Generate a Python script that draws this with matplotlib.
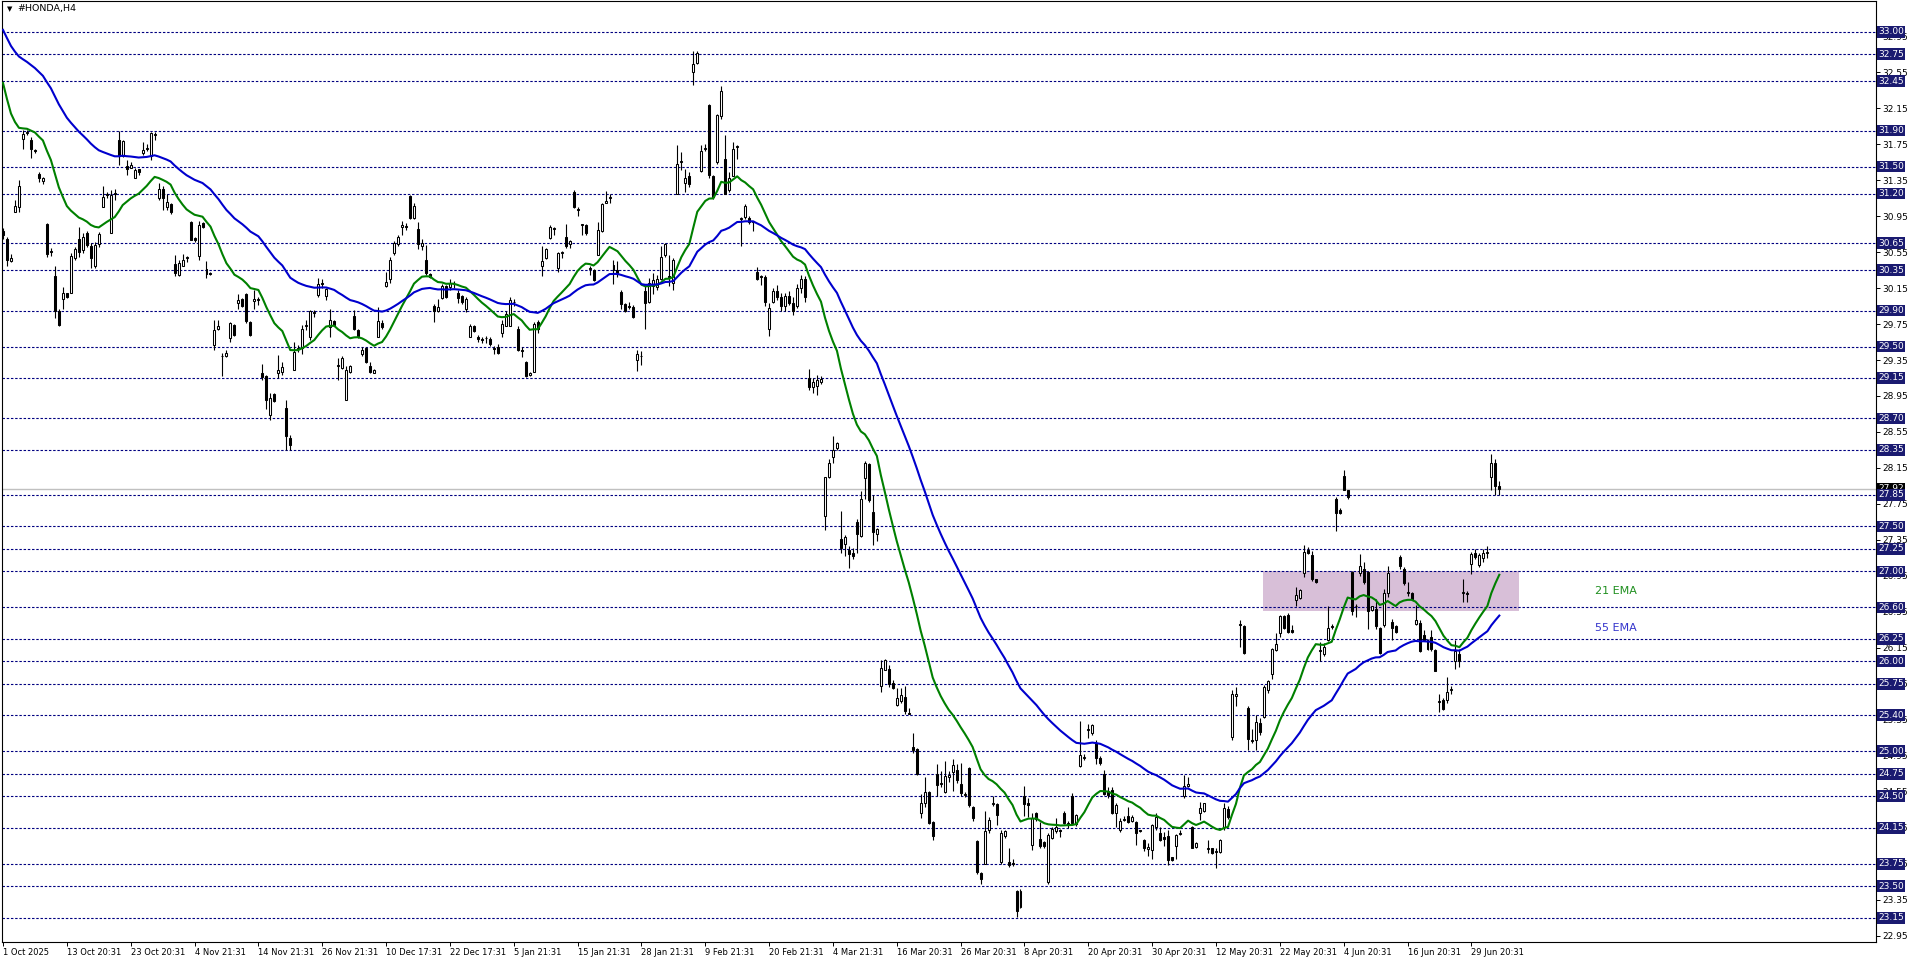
import matplotlib.pyplot as plt
import numpy as np
from matplotlib.patches import Rectangle
from matplotlib.ticker import FormatStrFormatter

# Nến H4 #HONDA (từ 1 Oct 2025)
opens = [
    30.78, 30.70, 30.45, 31.00, 31.05, 31.81, 31.87, 31.80, 31.68, 31.42,
    31.34, 30.86, 30.56, 30.28, 29.90, 30.03, 30.09, 30.10, 30.48, 30.70,
    30.57, 30.76, 30.62, 30.39, 30.64, 31.05, 31.18, 30.76, 31.20, 31.80,
    31.62, 31.51, 31.49, 31.37, 31.47, 31.65, 31.70, 31.62, 31.85, 31.15,
    31.25, 31.05, 31.08, 30.42, 30.29, 30.39, 30.48, 30.88, 30.71, 30.51,
    30.87, 30.36, 30.32, 29.52, 29.70, 29.39, 29.40, 29.60, 29.74, 29.98,
    30.03, 30.08, 29.77, 30.01, 30.02, 29.20, 29.17, 28.74, 28.97, 29.20,
    29.22, 28.82, 28.48, 29.24, 29.47, 29.48, 29.73, 29.61, 29.87, 30.07,
    30.21, 30.06, 29.72, 29.78, 29.28, 29.26, 28.90, 29.22, 29.84, 29.68,
    29.42, 29.48,
    29.28, 29.21, 29.61, 29.76, 30.17, 30.25, 30.54, 30.64,
    30.83, 30.84, 31.17, 30.93, 30.81, 30.62, 30.46, 30.31, 29.95, 29.90,
    30.04, 30.17, 30.16, 30.20, 30.09, 30.06, 29.92, 29.61, 29.73, 29.61,
    29.58, 29.59, 29.58, 29.48, 29.50, 29.65, 29.73, 29.73, 29.99, 29.70,
    29.46, 29.33, 29.18, 29.22, 29.77, 30.39, 30.48, 30.71, 30.82, 30.37,
    30.54, 30.72, 30.64, 31.22, 31.03, 30.85, 30.85, 30.36, 30.35, 30.52,
    30.78, 31.10, 31.15, 30.41, 30.35, 30.11, 29.97, 29.95, 29.94, 29.35,
    29.40, 30.12, 29.99, 30.17, 30.16, 30.25, 30.52, 30.28, 30.21, 31.20,
    31.55, 31.32, 31.40, 32.55, 32.65, 31.45, 31.70, 32.18, 31.40, 31.55,
    32.06, 31.59, 31.24, 31.40, 31.72, 30.92, 30.94, 30.93, 30.88, 30.33,
    30.28,
    30.27, 29.70, 30.00, 30.12, 30.05, 29.95, 30.06, 29.98, 29.95, 30.15,
    30.25, 29.15, 29.05,
    29.06, 29.10, 27.62, 28.05, 28.27, 28.37, 27.36, 27.30, 27.24, 27.21,
    27.55, 27.39, 28.04, 28.19, 27.66, 27.42, 25.73, 25.90, 25.91, 25.76,
    25.51, 25.56, 25.60, 25.43, 25.05, 25.03, 24.31, 24.43, 24.55, 24.21,
    24.75, 24.64, 24.55, 24.71, 24.77, 24.79, 24.64, 24.51, 24.81, 24.38,
    24.00, 23.65, 23.75, 24.12, 24.41, 24.41, 23.77, 24.06, 23.77, 23.76,
    23.45, 23.27, 24.50, 24.43, 23.96, 24.31, 24.02, 23.99, 23.55, 24.04,
    24.11, 24.12, 24.31, 24.19, 24.50, 24.19, 24.84, 24.93, 25.24, 25.20,
    25.09, 24.93,
    24.75, 24.56, 24.57, 24.31, 24.12, 24.24, 24.28, 24.22, 24.21, 24.12,
    24.01, 23.91, 23.90, 24.16, 24.09, 24.05, 24.06, 23.82, 23.95, 24.08,
    24.50, 24.61, 24.16, 23.94, 24.31, 24.34, 23.91, 23.92, 23.88, 23.88,
    24.16, 24.36, 25.16, 25.62, 26.41, 26.39, 25.48, 25.13, 25.13, 25.32,
    25.38, 25.68, 25.86, 26.13, 26.31, 26.50, 26.52, 26.35, 26.68, 26.70,
    26.98, 27.24, 27.18, 26.91, 26.12, 26.08, 26.24, 26.38, 27.81, 27.68,
    28.06, 27.90, 26.99, 26.61, 26.98, 27.03, 26.99, 26.57, 26.58, 26.37,
    26.40, 26.76, 26.44, 26.39, 27.16, 27.03, 26.76, 26.76, 26.41, 26.43,
    26.29, 26.24, 26.27, 26.13, 25.55, 25.57, 25.57, 25.68, 26.00, 26.08,
    26.76, 26.76, 27.08, 27.21, 27.07,
    27.15, 27.20, 28.05, 28.20, 27.95,
]
highs = [
    30.82, 30.72, 30.53, 31.13, 31.35, 31.91, 31.91, 31.83, 31.70, 31.44,
    31.38, 30.87, 30.59, 30.39, 29.92, 30.16, 30.10, 30.54, 30.61, 30.83,
    30.76, 30.78, 30.65, 30.66, 30.77, 31.28, 31.22, 31.24, 31.25, 31.90,
    31.80, 31.57, 31.55, 31.48, 31.47, 31.77, 31.75, 31.89, 31.88, 31.32,
    31.28, 31.20, 31.09, 30.52, 30.46, 30.53, 30.51, 30.89, 30.72, 30.89,
    30.88, 30.45, 30.33, 29.80, 29.80, 29.43, 29.46, 29.77, 29.75, 30.08,
    30.04, 30.09, 29.78, 30.13, 30.05, 29.31, 29.18, 28.98, 28.98, 29.41,
    29.33, 28.90, 28.52, 29.55, 29.52, 29.74, 29.80, 29.91, 29.91, 30.26,
    30.25, 30.15, 29.92, 29.79, 29.37, 29.39, 29.28, 29.30, 29.91, 29.69,
    29.50, 29.49,
    29.33, 29.25, 29.94, 29.79, 30.33, 30.50, 30.67, 30.74,
    30.90, 30.87, 31.18, 31.09, 30.88, 30.70, 30.63, 30.32, 29.97, 30.03,
    30.19, 30.18, 30.25, 30.23, 30.13, 30.07, 30.05, 29.75, 29.74, 29.63,
    29.61, 29.62, 29.61, 29.51, 29.53, 29.79, 29.90, 30.05, 30.03, 29.73,
    29.50, 29.34, 29.22, 29.77, 29.79, 30.62, 30.59, 30.85, 30.83, 30.55,
    30.56, 30.86, 30.68, 31.24, 31.05, 30.86, 30.86, 30.40, 30.36, 30.88,
    31.10, 31.23, 31.19, 30.46, 30.45, 30.13, 29.98, 29.99, 29.96, 29.46,
    29.45, 30.17, 30.26, 30.32, 30.29, 30.62, 30.65, 30.52, 30.48, 31.74,
    31.66, 31.47, 31.44, 32.78, 32.78, 31.74, 31.75, 32.20, 31.41, 32.09,
    32.40, 31.85, 31.44, 31.77, 31.74, 30.94, 31.08, 30.95, 30.90, 30.38,
    30.30,
    30.30, 29.98, 30.15, 30.18, 30.10, 30.10, 30.12, 30.05, 30.20, 30.30,
    30.28, 29.25, 29.15,
    29.18, 29.17, 28.05, 28.25, 28.51, 28.44, 27.67, 27.40, 27.28, 27.26,
    27.58, 27.89, 28.23, 28.20, 27.85, 27.48, 26.02, 26.03, 25.96, 25.79,
    25.70, 25.70, 25.73, 25.48, 25.20, 25.04, 24.52, 24.71, 24.56, 24.22,
    24.86, 24.78, 24.89, 24.78, 24.91, 24.86, 24.87, 24.55, 24.82, 24.39,
    24.01, 23.66, 24.34, 24.27, 24.50, 24.43, 24.12, 24.12, 23.92, 23.80,
    23.46, 23.47, 24.61, 24.48, 24.31, 24.33, 24.21, 24.00, 24.09, 24.16,
    24.26, 24.14, 24.34, 24.22, 24.54, 24.30, 25.34, 24.97, 25.30, 25.30,
    25.13, 24.95,
    24.79, 24.60, 24.60, 24.42, 24.26, 24.28, 24.38, 24.29, 24.22, 24.13,
    24.02, 23.98, 24.19, 24.31, 24.16, 24.10, 24.12, 23.83, 24.08, 24.12,
    24.74, 24.71, 24.17, 23.99, 24.44, 24.43, 24.01, 23.93, 23.93, 24.02,
    24.42, 24.39, 25.68, 25.72, 26.46, 26.40, 25.50, 25.25, 25.40, 25.37,
    25.74, 25.79, 26.15, 26.31, 26.51, 26.51, 26.54, 26.40, 26.83, 26.80,
    27.29, 27.27, 27.23, 26.92, 26.21, 26.20, 26.62, 26.42, 27.83, 27.71,
    28.13, 27.91, 27.00, 26.64, 27.19, 27.10, 27.00, 26.62, 26.69, 26.38,
    26.80, 27.06, 26.47, 26.40, 27.18, 27.05, 26.88, 26.77, 26.63, 26.46,
    26.35, 26.25, 26.35, 26.14, 25.64, 25.59, 25.83, 25.73, 26.24, 26.14,
    26.91, 26.78, 27.22, 27.25, 27.20,
    27.25, 27.28, 28.30, 28.25, 28.00,
]
lows = [
    30.70, 30.39, 30.44, 30.99, 30.99, 31.70, 31.85, 31.60, 31.65, 31.33,
    31.31, 30.50, 30.51, 29.82, 29.73, 29.92, 30.04, 30.09, 30.46, 30.50,
    30.54, 30.61, 30.37, 30.37, 30.61, 31.05, 31.15, 30.76, 31.13, 31.52,
    31.61, 31.41, 31.48, 31.37, 31.41, 31.63, 31.67, 31.57, 31.80, 31.13,
    31.02, 31.02, 30.97, 30.28, 30.28, 30.39, 30.44, 30.68, 30.66, 30.46,
    30.82, 30.26, 30.30, 29.46, 29.68, 29.17, 29.38, 29.55, 29.62, 29.92,
    29.94, 29.76, 29.62, 29.92, 29.96, 29.13, 28.80, 28.68, 28.88, 29.15,
    29.18, 28.35, 28.35, 29.24, 29.44, 29.42, 29.68, 29.57, 29.83, 30.05,
    30.15, 30.02, 29.61, 29.73, 29.13, 29.25, 28.90, 29.20, 29.68, 29.60,
    29.39, 29.32,
    29.21, 29.20, 29.61, 29.69, 30.16, 30.21, 30.52, 30.62,
    30.74, 30.80, 30.92, 30.92, 30.58, 30.57, 30.30, 30.26, 29.77, 29.88,
    30.03, 30.04, 30.13, 30.15, 29.98, 29.97, 29.88, 29.61, 29.66, 29.55,
    29.54, 29.54, 29.51, 29.42, 29.42, 29.61, 29.73, 29.73, 29.95, 29.45,
    29.38, 29.16, 29.17, 29.22, 29.65, 30.28, 30.47, 30.69, 30.74, 30.33,
    30.48, 30.60, 30.60, 31.04, 30.95, 30.74, 30.74, 30.29, 30.23, 30.52,
    30.77, 31.09, 31.10, 30.20, 30.27, 29.92, 29.88, 29.92, 29.82, 29.23,
    29.29, 29.70, 29.98, 30.08, 30.13, 30.24, 30.50, 30.17, 30.13, 31.20,
    31.46, 31.22, 31.27, 32.41, 32.64, 31.44, 31.67, 31.37, 31.14, 31.53,
    32.03, 31.20, 31.22, 31.39, 31.59, 30.62, 30.92, 30.86, 30.78, 30.24,
    30.18,
    29.95, 29.62, 29.98, 30.02, 29.90, 29.90, 29.96, 29.85, 29.93, 30.10,
    30.00, 29.02, 28.98,
    28.96, 29.08, 27.46, 28.04, 28.21, 28.35, 27.20, 27.17, 27.04, 27.14,
    27.20, 27.38, 27.81, 27.77, 27.29, 27.34, 25.66, 25.90, 25.72, 25.69,
    25.50, 25.54, 25.41, 25.41, 24.98, 24.74, 24.26, 24.38, 24.19, 24.01,
    24.50, 24.60, 24.54, 24.66, 24.56, 24.65, 24.50, 24.49, 24.38, 24.23,
    23.64, 23.53, 23.75, 24.09, 24.39, 24.18, 23.75, 24.04, 23.71, 23.72,
    23.16, 23.26, 24.28, 24.27, 23.90, 24.22, 23.92, 23.93, 23.53, 24.02,
    24.09, 24.05, 24.19, 24.15, 24.19, 24.17, 24.82, 24.90, 25.15, 25.18,
    24.86, 24.85,
    24.51, 24.48, 24.30, 24.16, 24.10, 24.22, 24.20, 24.21, 23.96, 24.10,
    23.89, 23.84, 23.80, 24.12, 24.00, 23.95, 23.74, 23.78, 23.80, 24.07,
    24.48, 24.60, 23.92, 23.93, 24.24, 24.32, 23.87, 23.86, 23.70, 23.87,
    24.13, 24.25, 25.13, 25.50, 26.16, 26.08, 25.01, 25.09, 25.02, 25.18,
    25.37, 25.65, 25.80, 26.11, 26.27, 26.36, 26.31, 26.32, 26.62, 26.69,
    26.94, 27.19, 26.89, 26.87, 26.00, 26.06, 26.23, 26.36, 27.45, 27.64,
    27.90, 27.81, 26.51, 26.49, 26.95, 26.86, 26.36, 26.56, 26.36, 26.08,
    26.38, 26.71, 26.24, 26.32, 27.03, 26.85, 26.73, 26.68, 26.40, 26.10,
    26.23, 26.13, 26.12, 25.89, 25.44, 25.46, 25.54, 25.64, 25.92, 25.94,
    26.66, 26.66, 26.97, 27.14, 27.05,
    27.10, 27.15, 27.90, 27.85, 27.85,
]
closes = [
    30.74, 30.46, 30.48, 31.06, 31.28, 31.86, 31.88, 31.70, 31.67, 31.37,
    31.37, 30.53, 30.55, 29.90, 29.74, 30.10, 30.05, 30.51, 30.58, 30.55,
    30.72, 30.63, 30.48, 30.63, 30.75, 31.16, 31.19, 31.18, 31.21, 31.62,
    31.79, 31.47, 31.52, 31.46, 31.44, 31.68, 31.71, 31.87, 31.86, 31.25,
    31.15, 31.11, 30.99, 30.32, 30.43, 30.46, 30.49, 30.68, 30.68, 30.85,
    30.83, 30.31, 30.31, 29.68, 29.73, 29.40, 29.43, 29.76, 29.63, 30.02,
    29.95, 29.78, 29.63, 30.03, 30.03, 29.16, 28.91, 28.93, 28.89, 29.24,
    29.27, 28.50, 28.41, 29.44, 29.48, 29.70, 29.74, 29.89, 29.88, 30.20,
    30.20, 30.14, 29.80, 29.74, 29.29, 29.37, 29.24, 29.28, 29.70, 29.62,
    29.46, 29.33,
    29.22, 29.24, 29.78, 29.72, 30.22, 30.46, 30.65, 30.72,
    30.85, 30.83, 30.93, 31.06, 30.64, 30.65, 30.32, 30.27, 29.89, 29.94,
    30.17, 30.05, 30.21, 30.19, 30.04, 30.00, 30.03, 29.73, 29.67, 29.58,
    29.57, 29.60, 29.53, 29.47, 29.43, 29.75, 29.86, 30.02, 30.00, 29.46,
    29.45, 29.17, 29.21, 29.75, 29.69, 30.45, 30.58, 30.83, 30.81, 30.54,
    30.55, 30.62, 30.67, 31.05, 31.02, 30.86, 30.76, 30.37, 30.24, 30.80,
    31.08, 31.12, 31.16, 30.35, 30.31, 29.97, 29.90, 29.94, 29.83, 29.42,
    29.39, 29.98, 30.21, 30.24, 30.25, 30.50, 30.64, 30.27, 30.46, 31.53,
    31.56, 31.37, 31.31, 32.64, 32.76, 31.67, 31.71, 31.41, 31.16, 32.07,
    32.34, 31.20, 31.37, 31.70, 31.73, 30.93, 31.06, 30.88, 30.89, 30.25,
    30.27,
    30.00, 29.93, 30.12, 30.05, 29.95, 30.06, 29.98, 29.90, 30.15, 30.25,
    30.05, 29.05, 29.10,
    29.13, 29.14, 28.05, 28.21, 28.35, 28.43, 27.26, 27.38, 27.19, 27.17,
    27.42, 27.80, 28.21, 27.79, 27.44, 27.47, 25.93, 26.02, 25.75, 25.70,
    25.59, 25.63, 25.45, 25.42, 25.01, 24.75, 24.43, 24.55, 24.20, 24.06,
    24.62, 24.65, 24.73, 24.74, 24.85, 24.68, 24.54, 24.52, 24.40, 24.26,
    23.66, 23.58, 24.11, 24.24, 24.43, 24.29, 24.09, 24.11, 23.74, 23.75,
    23.23, 23.45, 24.41, 24.40, 24.26, 24.25, 23.95, 23.95, 24.07, 24.14,
    24.16, 24.11, 24.20, 24.20, 24.20, 24.29, 24.96, 24.94, 25.25, 25.29,
    24.93, 24.87,
    24.53, 24.51, 24.31, 24.40, 24.22, 24.25, 24.21, 24.27, 24.09, 24.11,
    23.92, 23.94, 24.18, 24.27, 24.01, 24.02, 23.79, 23.79, 24.07, 24.09,
    24.61, 24.64, 23.92, 23.98, 24.37, 24.42, 23.92, 23.87, 23.89, 24.01,
    24.37, 24.27, 25.64, 25.64, 26.40, 26.09, 25.14, 25.11, 25.33, 25.21,
    25.71, 25.78, 26.14, 26.19, 26.50, 26.37, 26.33, 26.33, 26.74, 26.79,
    27.22, 27.21, 26.92, 26.88, 26.13, 26.16, 26.37, 26.39, 27.65, 27.65,
    27.91, 27.83, 26.56, 26.62, 27.06, 26.88, 26.56, 26.61, 26.39, 26.09,
    26.76, 26.98, 26.37, 26.33, 27.06, 26.87, 26.77, 26.69, 26.46, 26.11,
    26.24, 26.14, 26.14, 25.89, 25.56, 25.47, 25.66, 25.69, 26.11, 26.00,
    26.77, 26.75, 27.19, 27.16, 27.18,
    27.20, 27.22, 28.20, 27.95, 27.92,
]

date_labels = ['1 Oct 2025', '13 Oct 20:31', '23 Oct 20:31', '4 Nov 21:31',
               '14 Nov 21:31', '26 Nov 21:31', '10 Dec 17:31', '22 Dec 17:31',
               '5 Jan 21:31', '15 Jan 21:31', '28 Jan 21:31', '9 Feb 21:31',
               '20 Feb 21:31', '4 Mar 21:31', '16 Mar 20:31', '26 Mar 20:31',
               '8 Apr 20:31', '20 Apr 20:31', '30 Apr 20:31', '12 May 20:31',
               '22 May 20:31', '4 Jun 20:31', '16 Jun 20:31', '29 Jun 20:31']
bars_per_label = 16

# các đường ngang (mức giá)
levels = [33.00, 32.75, 32.45, 31.90, 31.50, 31.20, 30.65, 30.35, 29.90,
          29.50, 29.15, 28.70, 28.35, 27.85, 27.50, 27.25, 27.00, 26.60,
          26.25, 26.00, 25.75, 25.40, 25.00, 24.75, 24.50, 24.15, 23.75,
          23.50, 23.15]
bid = 27.92
zone_lo, zone_hi = 26.56, 27.00
zone_x0, zone_x1 = 315.8, 380.0
ema21_start = 32.43
ema55_start = 33.02

n = len(closes)
assert len(opens) == n and len(highs) == n and len(lows) == n, (len(opens), len(highs), len(lows), n)


def ema(vals, period, start):
    k = 2.0 / (period + 1)
    out = [start]
    for v in vals[1:]:
        out.append(out[-1] + k * (v - out[-1]))
    return np.array(out)


W, H = 1916, 963
fig = plt.figure(figsize=(W / 100, H / 100), dpi=100)
fig.patch.set_facecolor('white')
ax = fig.add_axes([2 / W, 21 / H, 1874 / W, 941 / H])
x_lo, x_hi = -0.25, 469.4
ax.set_xlim(x_lo, x_hi)
ax.set_ylim(22.880, 33.341)

# vùng tím
ax.add_patch(Rectangle((zone_x0, zone_lo), zone_x1 - zone_x0, zone_hi - zone_lo,
                       facecolor='#D8BFD8', edgecolor='none', zorder=0.5))

ax.hlines(levels, x_lo, x_hi, colors='#000080', linestyles=(0, (2.2, 1.6)),
          linewidth=0.8, zorder=1)
ax.axhline(bid, color='#C0C0C0', lw=1.0, zorder=1)

# nến
x = np.arange(n)
o = np.array(opens)
c = np.array(closes)
up = c >= o
lo_body = np.minimum(o, c)
h_body = np.maximum(np.abs(c - o), 0.006)
ax.vlines(x, lows, highs, color='black', lw=0.8, zorder=2)
ax.bar(x[up], h_body[up], bottom=lo_body[up], width=0.5, color='white',
       edgecolor='black', linewidth=0.75, zorder=3)
ax.bar(x[~up], h_body[~up], bottom=lo_body[~up], width=0.5, color='black',
       edgecolor='black', linewidth=0.75, zorder=3)

# EMA
ax.plot(x, ema(closes, 21, ema21_start), color='#008000', lw=1.5, zorder=4)
ax.plot(x, ema(closes, 55, ema55_start), color='#0000CD', lw=1.5, zorder=4)
ax.text(399, 26.78, '21 EMA', color='#1f8f1f', fontsize=8, va='center')
ax.text(399, 26.37, '55 EMA', color='#3535cc', fontsize=8, va='center')

# trục giá bên phải
ax.yaxis.tick_right()
ax.set_yticks(np.round(np.arange(22.95, 33.0, 0.40), 2))
ax.yaxis.set_major_formatter(FormatStrFormatter('%.2f'))
ax.tick_params(axis='y', labelsize=6.5, length=3, width=0.7, pad=1.5)

ytr = ax.get_yaxis_transform()
ax.text(1.0012, bid, f'{bid:.2f}', transform=ytr, ha='left', va='center',
        fontsize=6.5, color='white', clip_on=False, zorder=5,
        bbox=dict(boxstyle='square,pad=0.15', fc='black', ec='none'))
for p in levels:
    ax.text(1.0012, p, f'{p:.2f}', transform=ytr, ha='left', va='center',
            fontsize=6.5, color='white', clip_on=False, zorder=6,
            bbox=dict(boxstyle='square,pad=0.15', fc='#1a1a70', ec='none'))

# trục thời gian
ax.set_xticks(np.arange(len(date_labels)) * bars_per_label)
ax.set_xticklabels(date_labels, ha='left', fontsize=6)
ax.tick_params(axis='x', length=3, width=0.7, pad=1.5)

for s in ax.spines.values():
    s.set_linewidth(0.8)
    s.set_color('black')

fig.text(10 / W, 1 - 9 / H, '\u25bc', fontsize=5, va='center', ha='center')
fig.text(17 / W, 1 - 9 / H, '#HONDA,H4', fontsize=6.8, va='center')

fig.savefig('out.png', dpi=100, facecolor='white')
